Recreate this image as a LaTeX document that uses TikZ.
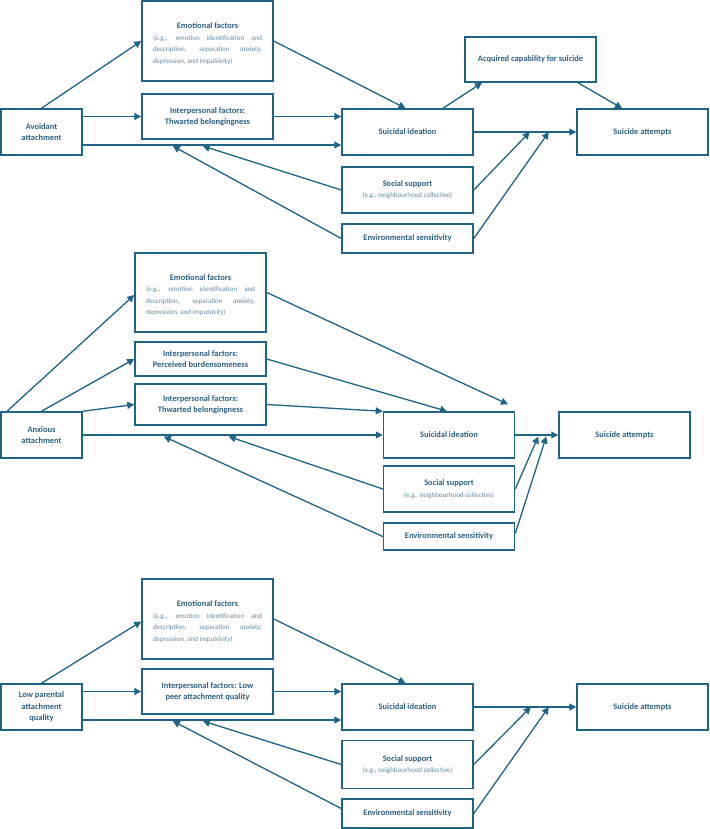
\documentclass[tikz,border=0pt]{standalone}
\usepackage{fontspec}
\setmainfont{Carlito}
\usetikzlibrary{arrows.meta,calc}
\definecolor{lc}{HTML}{1F6386}
\definecolor{tc}{HTML}{2B5F80}
\definecolor{sc}{HTML}{5F8AA4}
\newcommand\ttlfont{\fontsize{8.4}{11.3}\selectfont\bfseries\color{tc}}
\newcommand\smfont{\fontsize{7}{11.5}\selectfont\mdseries\color{sc}}
\newcommand\emotext{\begin{minipage}{109pt}\tolerance=10000\hyphenpenalty=10000
\vspace*{5pt}\centering\ttlfont Emotional factors\par
\smfont\leftskip=0pt\rightskip=0pt\parfillskip=0pt plus 1fil\relax
(e.g., emotion identification and\linebreak description, separation anxiety,\linebreak depression, and impulsivity)\par
\end{minipage}}
\newcommand\sstext{{\ttlfont Social support}\\{\smfont (e.g., neighbourhood collective)}}
\tikzset{
  box/.style={draw=lc, line width=1.5pt, rectangle, inner sep=2pt, align=center,
    font=\ttlfont, text=tc, minimum width=131pt},
  arr/.style={draw=lc, line width=1.3pt, -{Triangle[length=7pt,width=7pt]}}
}
\begin{document}
\begin{tikzpicture}[x=1pt,y=-1pt]
\useasboundingbox (0,0) rectangle (709,829);
% ---------- Panel 1 ----------
\node[box, minimum width=81pt, minimum height=46pt] (av) at (41.5,132) {Avoidant\\attachment};
\node[box, minimum height=80pt] (emo1) at (207.5,41) {\emotext};
\node[box, minimum height=45pt] (ip1) at (207.5,116.5) {Interpersonal factors:\\Thwarted belongingness};
\node[box, minimum height=46pt] (si1) at (407.5,132) {Suicidal ideation};
\node[box, minimum height=45pt] (acq) at (530.5,59.5) {Acquired capability for suicide};
\node[box, minimum height=46pt] (sa1) at (642.5,132) {Suicide attempts};
\node[box, minimum height=46pt] (ss1) at (407.5,190) {\sstext};
\node[box, minimum height=29pt] (env1) at (407.5,238.5) {Environmental sensitivity};
\draw[arr] (av.north) -- (emo1.west);
\draw[arr] (av.east |- ip1.west) -- (ip1.west);
\draw[arr] ([yshift=-13pt]av.east) -- ([yshift=-13pt]si1.west);
\draw[arr] (ip1.east) -- (si1.west |- ip1.east);
\draw[arr] (emo1.east) -- ([xshift=-2pt]si1.north);
\draw[arr] ([xshift=35.5pt]si1.north) -- ([xshift=-48.5pt]acq.south);
\draw[arr] ([xshift=47.5pt]acq.south) -- ([xshift=-20.5pt]sa1.north);
\draw[arr] (si1.east) -- (sa1.west);
\coordinate (m1a) at ([xshift=56pt]si1.east);
\coordinate (m1b) at ([xshift=75pt]si1.east);
\draw[arr] (ss1.east) -- (m1a);
\draw[arr] (env1.east) -- (m1b);
\coordinate (t1a) at ([xshift=120pt,yshift=-14pt]av.east);
\coordinate (t1b) at ([xshift=90pt,yshift=-14pt]av.east);
\draw[arr] (ss1.west) -- (t1a);
\draw[arr] (env1.west) -- (t1b);
% ---------- Panel 2 ----------
\node[box, minimum width=81pt, minimum height=46pt] (ax) at (41.5,435) {Anxious\\attachment};
\node[box, minimum height=79pt] (emo2) at (200.5,292.5) {\emotext};
\node[box, minimum height=34pt] (pb) at (200.5,359) {Interpersonal factors:\\Perceived burdensomeness};
\node[box, minimum height=41pt] (tb2) at (200.5,404.5) {Interpersonal factors:\\Thwarted belongingness};
\node[box, minimum height=46pt] (si2) at (449,435) {Suicidal ideation};
\node[box, minimum height=46pt] (sa2) at (624.5,435) {Suicide attempts};
\node[box, minimum height=46pt] (ss2) at (449,489) {\sstext};
\node[box, minimum height=27pt] (env2) at (449,536.5) {Environmental sensitivity};
\draw[arr] ([xshift=-34.5pt]ax.north) -- ([yshift=-2.5pt]emo2.west);
\draw[arr] (ax.north) -- (pb.west);
\draw[arr] (ax.north east) -- (tb2.west);
\draw[arr] (ax.east) -- (si2.west);
\draw[arr] (tb2.east) -- (si2.north west);
\draw[arr] (pb.east) -- ([xshift=-2pt]si2.north);
\draw[arr] (emo2.east) -- ([xshift=59pt,yshift=7pt]si2.north);
\draw[arr] (si2.east) -- (sa2.west);
\coordinate (m2a) at ([xshift=23pt,yshift=-1.5pt]si2.east);
\coordinate (m2b) at ([xshift=31pt,yshift=-1.5pt]si2.east);
\draw[arr] (ss2.east) -- (m2a);
\draw[arr] ([yshift=3pt]env2.east) -- (m2b);
\coordinate (t2a) at ([xshift=146pt,yshift=-1.5pt]ax.east);
\coordinate (t2b) at ([xshift=81pt,yshift=-1.5pt]ax.east);
\draw[arr] (ss2.west) -- (t2a);
\draw[arr] (env2.west) -- (t2b);
% ---------- Panel 3 ----------
\node[box, minimum width=81pt, minimum height=46pt] (lp) at (41.5,707) {Low parental\\attachment\\quality};
\node[box, minimum height=80pt] (emo3) at (207.5,619) {\emotext};
\node[box, minimum height=45pt] (ip3) at (207.5,691.5) {Interpersonal factors: Low\\peer attachment quality};
\node[box, minimum height=46pt] (si3) at (407.5,707) {Suicidal ideation};
\node[box, minimum height=46pt] (sa3) at (642.5,707) {Suicide attempts};
\node[box, minimum height=48pt] (ss3) at (407.5,764.5) {\sstext};
\node[box, minimum height=29pt] (env3) at (407.5,813.5) {Environmental sensitivity};
\draw[arr] (lp.north) -- ([yshift=-2.5pt]emo3.west);
\draw[arr] (lp.east |- ip3.west) -- (ip3.west);
\draw[arr] ([yshift=-13pt]lp.east) -- ([yshift=-13pt]si3.west);
\draw[arr] (ip3.east) -- (si3.west |- ip3.east);
\draw[arr] (emo3.east) -- ([xshift=-2pt]si3.north);
\draw[arr] (si3.east) -- (sa3.west);
\coordinate (m3a) at ([xshift=57pt]si3.east);
\coordinate (m3b) at ([xshift=75pt]si3.east);
\draw[arr] (ss3.east) -- (m3a);
\draw[arr] (env3.east) -- (m3b);
\coordinate (t3a) at ([xshift=120pt,yshift=-14pt]lp.east);
\coordinate (t3b) at ([xshift=90pt,yshift=-14pt]lp.east);
\draw[arr] (ss3.west) -- (t3a);
\draw[arr] ([yshift=5pt]env3.west) -- (t3b);
\end{tikzpicture}
\end{document}
